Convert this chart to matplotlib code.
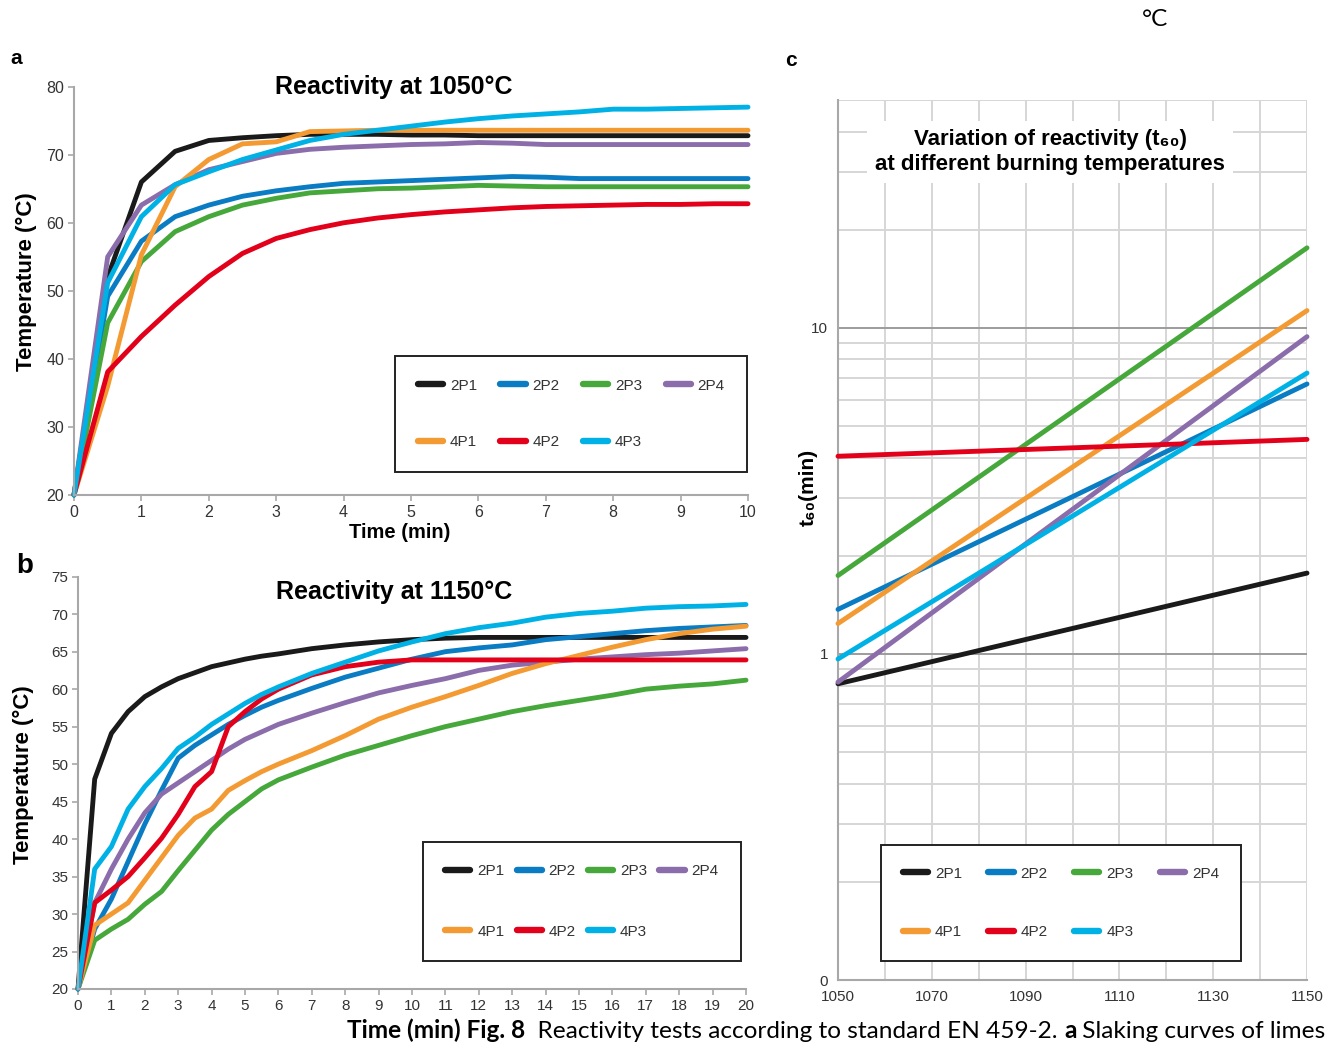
import matplotlib
matplotlib.use('Agg')
import matplotlib.pyplot as plt
from matplotlib.ticker import LogLocator, FixedLocator, NullFormatter, FixedFormatter
from matplotlib.lines import Line2D
import numpy as np

# ---------------- data ----------------
series = ['2P1', '2P2', '2P3', '2P4', '4P1', '4P2', '4P3']
colors = ['#1a1a1a', '#0a7cc3', '#46a83b', '#8b6dab', '#f39a33', '#e2001a', '#00b1e5']

time_a = [0, 0.5, 1, 1.5, 2, 2.5, 3, 3.5, 4, 4.5, 5, 5.5, 6, 6.5, 7, 7.5, 8, 8.5, 9, 9.5, 10]
a_2P1 = [20, 52, 66, 70.5, 72.1, 72.5, 72.8, 73.0, 73.0, 73.0, 72.9, 72.9, 72.8, 72.8, 72.8, 72.8, 72.8, 72.8, 72.8, 72.8, 72.8]
a_2P2 = [20, 49.2, 57.3, 60.9, 62.6, 63.9, 64.7, 65.3, 65.8, 66.0, 66.2, 66.4, 66.6, 66.8, 66.7, 66.5, 66.5, 66.5, 66.5, 66.5, 66.5]
a_2P3 = [20, 45.3, 54.3, 58.7, 60.9, 62.6, 63.6, 64.4, 64.7, 65.0, 65.1, 65.3, 65.5, 65.4, 65.3, 65.3, 65.3, 65.3, 65.3, 65.3, 65.3]
a_2P4 = [20, 55.0, 62.6, 65.6, 67.8, 69.0, 70.2, 70.8, 71.1, 71.3, 71.5, 71.6, 71.8, 71.7, 71.5, 71.5, 71.5, 71.5, 71.5, 71.5, 71.5]
a_4P1 = [20, 36, 55.3, 65.3, 69.3, 71.6, 71.9, 73.4, 73.5, 73.6, 73.6, 73.6, 73.6, 73.6, 73.6, 73.6, 73.6, 73.6, 73.6, 73.6, 73.6]
a_4P2 = [20, 38.1, 43.3, 47.9, 52.1, 55.5, 57.7, 59.0, 60.0, 60.7, 61.2, 61.6, 61.9, 62.2, 62.4, 62.5, 62.6, 62.7, 62.7, 62.8, 62.8]
a_4P3 = [20, 51.2, 60.9, 65.6, 67.5, 69.3, 70.7, 72.1, 73.0, 73.6, 74.2, 74.8, 75.3, 75.7, 76.0, 76.3, 76.7, 76.7, 76.8, 76.9, 77.0]

time_b = [0, 0.5, 1, 1.5, 2, 2.5, 3, 3.5, 4, 4.5, 5, 5.5, 6, 7, 8, 9, 10, 11, 12, 13, 14, 15, 16, 17, 18, 19, 20]
b_2P1 = [20, 48, 54.1, 57, 59, 60.3, 61.4, 62.2, 63.0, 63.5, 64.0, 64.4, 64.7, 65.4, 65.9, 66.3, 66.6, 66.8, 66.9, 66.9, 66.9, 66.9, 66.9, 66.9, 66.9, 66.9, 66.9]
b_2P2 = [20, 28, 32, 37, 42, 46.5, 50.8, 52.5, 53.9, 55.3, 56.5, 57.6, 58.5, 60.1, 61.6, 62.8, 64.0, 65.0, 65.5, 65.9, 66.6, 67.0, 67.4, 67.8, 68.1, 68.3, 68.5]
b_2P3 = [20, 26.5, 28, 29.3, 31.3, 33, 35.8, 38.5, 41.2, 43.3, 45, 46.7, 47.9, 49.6, 51.2, 52.5, 53.8, 55.0, 56.0, 57.0, 57.8, 58.5, 59.2, 60.0, 60.4, 60.7, 61.2]
b_2P4 = [20, 31.5, 36, 40, 43.5, 46, 47.5, 49, 50.5, 52, 53.3, 54.3, 55.3, 56.8, 58.2, 59.5, 60.5, 61.4, 62.5, 63.2, 63.6, 64.0, 64.3, 64.6, 64.8, 65.1, 65.4]
b_4P1 = [20, 28.5, 30, 31.5, 34.5, 37.5, 40.5, 42.8, 44, 46.5, 47.8, 49.0, 50.0, 51.8, 53.8, 56.0, 57.6, 59.0, 60.5, 62.1, 63.4, 64.5, 65.6, 66.6, 67.4, 68.0, 68.4]
b_4P2 = [20, 31.5, 33.2, 35, 37.5, 40.1, 43.3, 47.0, 49.0, 55.0, 57.0, 58.7, 60.0, 61.9, 63.0, 63.6, 63.9, 63.9, 63.9, 63.9, 63.9, 63.9, 63.9, 63.9, 63.9, 63.9, 63.9]
b_4P3 = [20, 36, 39, 44, 47, 49.4, 52.1, 53.6, 55.3, 56.7, 58.1, 59.3, 60.3, 62.1, 63.6, 65.1, 66.3, 67.4, 68.2, 68.8, 69.6, 70.1, 70.4, 70.8, 71.0, 71.1, 71.3]

burn_temp = [1050, 1150]
c_2P1 = [0.81, 1.77]
c_2P2 = [1.37, 6.73]
c_2P3 = [1.74, 17.6]
c_2P4 = [0.82, 9.4]
c_4P1 = [1.24, 11.3]
c_4P2 = [4.04, 4.55]
c_4P3 = [0.965, 7.27]

data_a = [a_2P1, a_2P2, a_2P3, a_2P4, a_4P1, a_4P2, a_4P3]
data_b = [b_2P1, b_2P2, b_2P3, b_2P4, b_4P1, b_4P2, b_4P3]
data_c = [c_2P1, c_2P2, c_2P3, c_2P4, c_4P1, c_4P2, c_4P3]

# ---------------- figure ----------------
W, H = 1341, 1043
plt.rcParams['font.family'] = ['Liberation Sans', 'DejaVu Sans']
fig = plt.figure(figsize=(W / 100, H / 100), dpi=100)


def fx(px):
    return px / W


def fy(py):
    return 1 - py / H


def rect(l, t, r, b):
    return [l / W, 1 - b / H, (r - l) / W, (b - t) / H]


LW = 3.5
SPINE = '#a8a8a8'
TXT = '#333333'

# legend order (column-major fill -> row-major look)
order = [0, 4, 1, 5, 2, 6, 3]


def make_legend(ax, left, top, fontsize, colsp, lsp, bpad):
    handles = [Line2D([0], [0], color=colors[i], lw=4.6, solid_capstyle='round') for i in order]
    labels = [series[i] for i in order]
    leg = ax.legend(handles, labels, ncol=4, loc='upper left',
                    bbox_to_anchor=(fx(left), fy(top)), bbox_transform=fig.transFigure,
                    borderaxespad=0, fontsize=fontsize, handlelength=1.65, handletextpad=0.45,
                    columnspacing=colsp, labelspacing=lsp, borderpad=bpad,
                    fancybox=False, framealpha=1, edgecolor='#222222')
    leg.get_frame().set_linewidth(1.4)
    for t in leg.get_texts():
        t.set_color(TXT)
    return leg


def style_time_axes(ax, fontsize):
    for s in ['top', 'right']:
        ax.spines[s].set_visible(False)
    for s in ['left', 'bottom']:
        ax.spines[s].set_color(SPINE)
        ax.spines[s].set_linewidth(1.5)
    ax.tick_params(length=4, width=1.2, color=SPINE, labelsize=fontsize, labelcolor=TXT, pad=3)


# ---------- panel a ----------
axa = fig.add_axes(rect(74, 86.7, 748, 495))
for vals, col in zip(data_a, colors):
    axa.plot(time_a, vals, color=col, lw=LW, solid_capstyle='round', solid_joinstyle='round', clip_on=False)
axa.set_xlim(0, 10)
axa.set_ylim(20, 80)
axa.set_xticks(range(0, 11))
axa.set_yticks(range(20, 81, 10))
style_time_axes(axa, 11.5)
make_legend(axa, 395, 356, 11, 1.53, 2.78, 1.49)
fig.text(fx(394), fy(87), 'Reactivity at 1050°C', fontsize=18, fontweight='bold', ha='center', va='center')
fig.text(fx(26), fy(282), 'Temperature (°C)', fontsize=16, fontweight='bold', rotation=90, ha='center', va='center')
fig.text(fx(400), fy(533), 'Time (min)', fontsize=14.5, fontweight='bold', ha='center', va='center')
fig.text(fx(16), fy(58), 'a', fontsize=15, fontweight='bold', ha='center', va='center')

# ---------- panel b ----------
axb = fig.add_axes(rect(78, 576.7, 746, 989))
for vals, col in zip(data_b, colors):
    axb.plot(time_b, vals, color=col, lw=LW, solid_capstyle='round', solid_joinstyle='round', clip_on=False)
axb.set_xlim(0, 20)
axb.set_ylim(20, 75)
axb.set_xticks(range(0, 21))
axb.set_yticks(range(20, 76, 5))
style_time_axes(axb, 11)
make_legend(axb, 423, 842, 11, 0.8, 3.05, 1.45)
fig.text(fx(394), fy(592), 'Reactivity at 1150°C', fontsize=18, fontweight='bold', ha='center', va='center')
fig.text(fx(23), fy(775), 'Temperature (°C)', fontsize=16, fontweight='bold', rotation=90, ha='center', va='center')
fig.text(fx(25), fy(566), 'b', fontsize=20, fontweight='bold', ha='center', va='center')

# ---------- panel c ----------
axc = fig.add_axes(rect(838, 100, 1307, 980))
axc.set_yscale('log')
axc.set_axisbelow(True)
for vals, col in zip(data_c, colors):
    axc.plot(burn_temp, vals, color=col, lw=LW, solid_capstyle='round', clip_on=False, zorder=3)
axc.set_xlim(1050, 1150)
axc.set_ylim(0.1, 50)
axc.yaxis.set_major_locator(FixedLocator([0.1, 1, 10]))
axc.yaxis.set_major_formatter(FixedFormatter(['0', '1', '10']))
axc.yaxis.set_minor_locator(LogLocator(base=10, subs=np.arange(2, 10), numticks=30))
axc.yaxis.set_minor_formatter(NullFormatter())
xt = list(range(1050, 1151, 10))
axc.set_xticks(xt)
axc.set_xticklabels([str(v) if (v - 1050) % 20 == 0 else '' for v in xt])
axc.grid(which='major', axis='x', color='#d6d6d6', lw=1.4)
axc.grid(which='minor', axis='y', color='#d6d6d6', lw=1.4)
axc.grid(which='major', axis='y', color='#9c9c9c', lw=1.4)
for s in ['top', 'right']:
    axc.spines[s].set_visible(False)
for s in ['left', 'bottom']:
    axc.spines[s].set_color(SPINE)
    axc.spines[s].set_linewidth(1.5)
axc.tick_params(which='both', length=0, labelsize=11, labelcolor=TXT, pad=7)
make_legend(axc, 881, 845, 11, 1.74, 2.9, 1.42)
fig.text(fx(1050), fy(152), 'Variation of reactivity (t₆₀)\nat different burning temperatures',
         fontsize=16, fontweight='bold', ha='center', va='center', linespacing=1.3,
         bbox=dict(boxstyle='square,pad=0.35', fc='white', ec='none'))
fig.text(fx(808), fy(487), 't₆₀(min)', fontsize=15, fontweight='bold', rotation=90, ha='center', va='center')
fig.text(fx(791), fy(60), 'c', fontsize=15, fontweight='bold', ha='center', va='center')

# ---------- caption ----------
cap_family = ['Lato', 'DejaVu Sans']
renderer = fig.canvas.get_renderer()
pieces = [('Time (min) Fig. 8', 'bold'), ('  Reactivity tests according to standard EN 459-2. ', 'normal'),
          ('a', 'bold'), (' Slaking curves of limes', 'normal')]
cap_size = 17.6
x = 347
for s, w in pieces:
    t = fig.text(fx(x), fy(1038), s, fontsize=cap_size, fontweight=w, family=cap_family,
                 ha='left', va='baseline')
    bb = t.get_window_extent(renderer)
    x += bb.width
fig.text(fx(1155), fy(20), '°C', fontsize=cap_size, family=cap_family, ha='center', va='center')

fig.savefig('out.png', dpi=100)
